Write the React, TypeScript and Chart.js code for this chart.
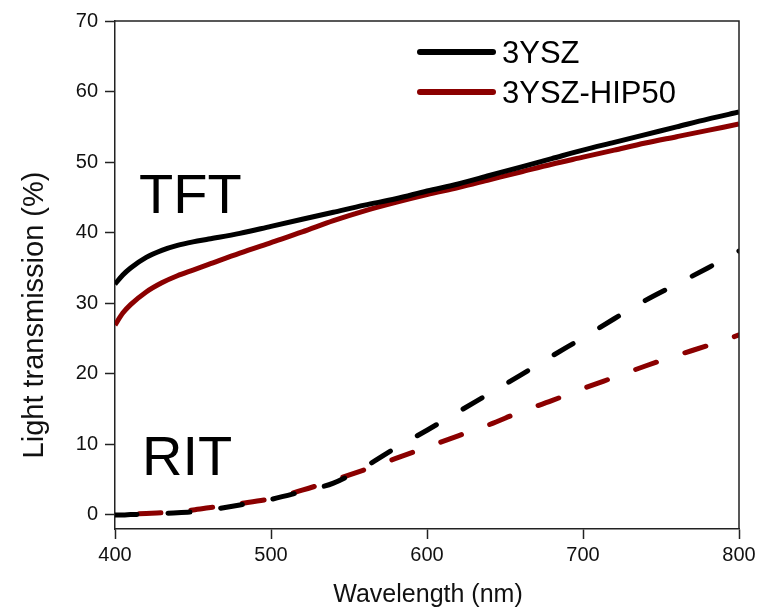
import React, { useEffect, useRef } from "react";
import { Chart, registerables } from "chart.js";

Chart.register(...registerables);

const wavelengths = [400, 405, 410, 420, 430, 440, 450, 460, 480, 500, 520, 540, 560, 580, 600, 620, 640, 660, 680, 700, 720, 740, 760, 780, 800];
const tft3YSZ = [32.7, 34.0, 35.0, 36.5, 37.5, 38.2, 38.7, 39.1, 39.9, 40.9, 41.9, 42.9, 43.9, 44.8, 45.9, 46.9, 48.1, 49.3, 50.5, 51.7, 52.8, 53.9, 55.0, 56.1, 57.1];
const tftHIP50 = [26.9, 28.6, 29.8, 31.6, 32.9, 33.9, 34.7, 35.5, 37.1, 38.6, 40.1, 41.7, 43.1, 44.3, 45.4, 46.4, 47.5, 48.6, 49.7, 50.7, 51.7, 52.7, 53.6, 54.5, 55.4];
const rit3YSZ = [0.0, 0.0, 0.05, 0.1, 0.2, 0.3, 0.45, 0.7, 1.4, 2.2, 3.3, 4.5, 6.8, 9.5, 12.0, 14.6, 17.2, 19.8, 22.5, 25.1, 27.8, 30.4, 32.7, 35.0, 37.4];
const ritHIP50 = [0.0, 0.05, 0.1, 0.2, 0.3, 0.5, 0.7, 1.0, 1.6, 2.3, 3.5, 4.9, 6.4, 8.0, 9.6, 11.2, 12.8, 14.6, 16.2, 17.9, 19.5, 21.1, 22.6, 24.0, 25.5];

const seriesNames = ["3YSZ", "3YSZ-HIP50"];
const seriesColors = ["#000000", "#8B0000"];
const xTicks = [400, 500, 600, 700, 800];
const yTicks = [0, 10, 20, 30, 40, 50, 60, 70];
const xTitle = "Wavelength (nm)";
const yTitle = "Light transmission (%)";
const regionLabels = ["TFT", "RIT"];

const FONT = "'Liberation Sans', Arial, sans-serif";

const pts = (ys: number[]) => wavelengths.map((x, i) => ({ x, y: ys[i] }));

const extrasPlugin = {
  id: "extras",
  afterDraw(chart: any) {
    const ctx = chart.ctx;
    const { left, right, top, bottom } = chart.chartArea;
    ctx.save();
    ctx.strokeStyle = "#222";
    ctx.lineWidth = 1.5;
    ctx.beginPath();
    ctx.moveTo(left, top);
    ctx.lineTo(right, top);
    ctx.lineTo(right, bottom);
    ctx.stroke();

    ctx.lineCap = "round";
    ctx.textBaseline = "alphabetic";
    ctx.textAlign = "left";
    ctx.font = `31px ${FONT}`;
    const ly = [52, 92];
    seriesNames.forEach((name, i) => {
      ctx.strokeStyle = seriesColors[i];
      ctx.lineWidth = 6;
      ctx.beginPath();
      ctx.moveTo(420, ly[i]);
      ctx.lineTo(493, ly[i]);
      ctx.stroke();
      ctx.fillStyle = "#000";
      ctx.fillText(name, 502, ly[i] + 11);
    });

    ctx.font = `56px ${FONT}`;
    ctx.fillStyle = "#000";
    ctx.fillText(regionLabels[0], 139, 213);
    ctx.fillText(regionLabels[1], 142, 475);

    ctx.font = `25px ${FONT}`;
    ctx.textAlign = "center";
    ctx.fillStyle = "#111";
    ctx.fillText(xTitle, (left + right) / 2 + 1, 602);
    ctx.save();
    ctx.translate(43, 315);
    ctx.rotate(-Math.PI / 2);
    ctx.font = `29px ${FONT}`;
    ctx.fillText(yTitle, 0, 0);
    ctx.restore();
    ctx.restore();
  },
};

export default function App() {
  const ref = useRef<HTMLCanvasElement | null>(null);
  useEffect(() => {
    document.body.style.margin = "0";
    const canvas = ref.current;
    if (!canvas) return;
    const mk = (label: string, data: number[], color: string, dash: number[], offset = 0) => ({
      label,
      data: pts(data),
      borderColor: color,
      backgroundColor: color,
      borderWidth: 5,
      borderDash: dash,
      borderDashOffset: offset,
      borderCapStyle: dash.length ? "round" : "butt",
      pointRadius: 0,
      cubicInterpolationMode: "monotone",
      fill: false,
    });
    const chart = new Chart(canvas, {
      type: "line",
      data: {
        datasets: [
          mk(seriesNames[0] + " RIT", rit3YSZ, seriesColors[0], [22, 31]),
          mk(seriesNames[1] + " RIT", ritHIP50, seriesColors[1], [22, 30], 28),
          mk(seriesNames[0], tft3YSZ, seriesColors[0], []),
          mk(seriesNames[1], tftHIP50, seriesColors[1], []),
        ] as any,
      },
      options: {
        responsive: false,
        animation: false,
        layout: { padding: { top: 21, right: 22, left: 0, bottom: 0 } },
        plugins: { legend: { display: false }, tooltip: { enabled: false } },
        scales: {
          x: {
            type: "linear",
            min: 400,
            max: 800,
            afterBuildTicks: (s: any) => {
              s.ticks = xTicks.map((v) => ({ value: v }));
            },
            afterFit: (s: any) => {
              s.height = 86;
            },
            grid: { drawOnChartArea: false, drawTicks: true, tickLength: 10, tickColor: "#222", tickWidth: 1.5 },
            border: { display: true, color: "#222", width: 1.5 },
            ticks: { color: "#111", font: { family: FONT, size: 20 }, padding: 4, maxRotation: 0 },
          },
          y: {
            type: "linear",
            min: -2,
            max: 70,
            afterBuildTicks: (s: any) => {
              s.ticks = yTicks.map((v) => ({ value: v }));
            },
            afterFit: (s: any) => {
              s.width = 115;
            },
            grid: { drawOnChartArea: false, drawTicks: true, tickLength: 10, tickColor: "#222", tickWidth: 1.5 },
            border: { display: true, color: "#222", width: 1.5 },
            ticks: { color: "#111", font: { family: FONT, size: 20 }, padding: 7 },
          },
        },
      } as any,
      plugins: [extrasPlugin],
    });
    return () => chart.destroy();
  }, []);
  return (
    <div style={{ width: 761, height: 615, background: "#fff" }}>
      <canvas ref={ref} width={761} height={615} style={{ display: "block" }} />
    </div>
  );
}
